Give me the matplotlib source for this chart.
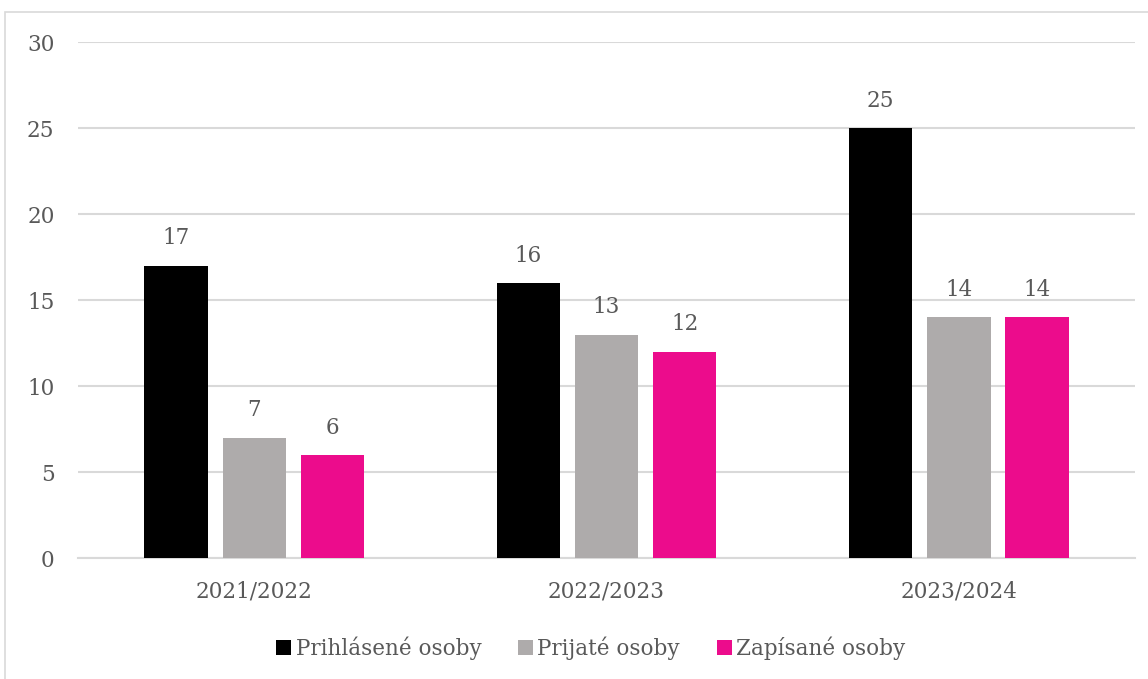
import matplotlib.pyplot as plt
from matplotlib.patches import Rectangle
import numpy as np

years = ["2021/2022", "2022/2023", "2023/2024"]
series_names = ["Prihlásené osoby", "Prijaté osoby", "Zapísané osoby"]
prihlasene = [17, 16, 25]
prijate = [7, 13, 14]
zapisane = [6, 12, 14]

colors = ["#000000", "#AEABAB", "#EC0C8C"]
text_col = "#595959"
fs = 15.5

plt.rcParams['font.family'] = ['DejaVu Serif']
plt.rcParams['font.size'] = fs

fig = plt.figure(figsize=(11.48, 6.79), dpi=100)
ax = fig.add_axes([0.068, 0.178, 0.9207, 0.76])

# light frame around the chart area
fig.patches.append(Rectangle((0.004, -0.02), 1.05, 1.003, transform=fig.transFigure,
                             fill=False, edgecolor="#D9D9D9", linewidth=1.2))

x = np.arange(len(years))
width = 0.18
step = 0.222

for i, (vals, name) in enumerate(zip([prihlasene, prijate, zapisane], series_names)):
    pos = x + (i - 1) * step
    ax.bar(pos, vals, width=width, color=colors[i], label=name, zorder=3)
    for px, v in zip(pos, vals):
        ax.text(px, v + 0.95, str(v), ha='center', va='bottom', color=text_col, fontsize=fs)

ax.set_xlim(-0.5, 2.5)
ax.set_ylim(0, 30)
ax.set_yticks(range(0, 31, 5))
ax.set_xticks(x)
ax.set_xticklabels(years)
ax.yaxis.grid(True, color="#D9D9D9", linewidth=1.5, zorder=0)
ax.set_axisbelow(True)
for s in ["top", "right", "left"]:
    ax.spines[s].set_visible(False)
ax.spines["bottom"].set_color("#D9D9D9")
ax.spines["bottom"].set_linewidth(1.5)
ax.tick_params(axis='both', length=0, colors=text_col, labelsize=fs)
ax.tick_params(axis='x', pad=16)
ax.tick_params(axis='y', pad=17)

leg = ax.legend(loc='upper center', bbox_to_anchor=(0.485, -0.115), ncol=3, frameon=False,
                handlelength=0.7, handleheight=0.7, handletextpad=0.2, columnspacing=1.7,
                fontsize=fs)
for t in leg.get_texts():
    t.set_color(text_col)

fig.savefig("out.png", dpi=100)
